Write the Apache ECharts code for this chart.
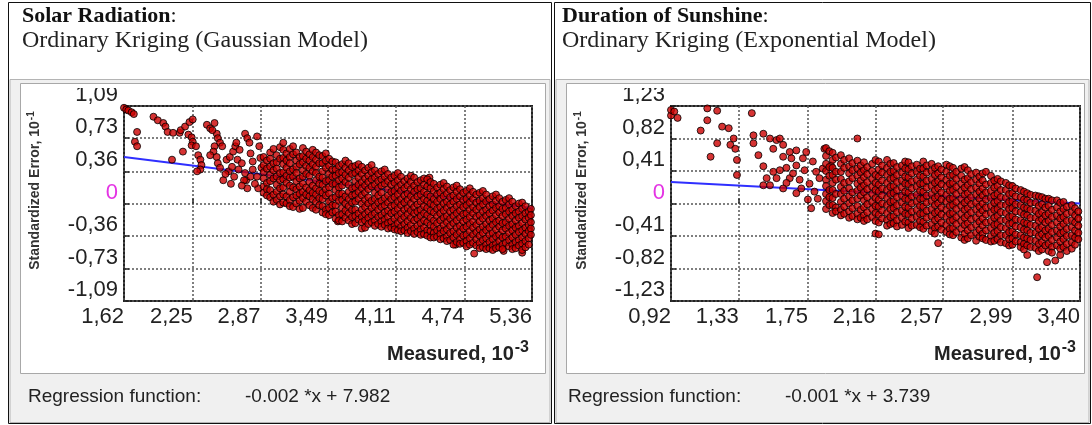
<!DOCTYPE html>
<html><head><meta charset="utf-8">
<script src="https://cdn.jsdelivr.net/npm/echarts@6/dist/echarts.min.js"></script>
<style>html,body{margin:0;padding:0;background:#fff}#c{width:1092px;height:425px}</style>
</head><body><div id="c"></div>
<script>
// ---------- tick values ----------
const solarTicksX = [1.62, 2.25, 2.87, 3.49, 4.11, 4.74, 5.36];
const solarTicksY = [-1.09, -0.73, -0.36, 0, 0.36, 0.73, 1.09];
const sunTicksX = [0.92, 1.33, 1.75, 2.16, 2.57, 2.99, 3.40];
const sunTicksY = [-1.23, -0.82, -0.41, 0, 0.41, 0.82, 1.23];

// ---------- regression lines ----------
const solarRegression = [[1.62, 0.52], [5.36, -0.05]];
const sunRegression = [[0.92, 0.27], [3.40, 0.00]];
const solarRegText = '-0.002 *x + 7.982';
const sunRegText = '-0.001 *x + 3.739';

// ---------- Solar radiation points ----------
const solarSparse = [
[1.62,1.07],[1.64,1.05],[1.66,1.04],[1.69,1.02],[1.71,1.00],
[1.74,0.80],[1.72,0.69],[1.74,0.64],
[1.89,0.97],[1.93,0.93],[1.98,0.90],[2.00,0.86],[2.02,0.80],[2.07,0.79],[2.13,0.79],[2.14,0.82],[2.18,0.86],[2.22,0.91],[2.25,0.94],
[2.06,0.49],[2.16,0.58],
[2.21,0.77],[2.24,0.74],[2.25,0.69],[2.24,0.65],[2.28,0.64],
[2.30,0.54],[2.32,0.49],[2.33,0.43],[2.32,0.38],[2.29,0.36],
[2.38,0.88],[2.41,0.84],[2.45,0.90],[2.47,0.78],[2.43,0.82],
[2.48,0.73],[2.50,0.68],[2.52,0.64],[2.45,0.64],[2.44,0.58],[2.41,0.54],[2.47,0.52],[2.48,0.45],[2.50,0.40],[2.53,0.26],
[2.56,0.49],[2.59,0.52],[2.62,0.58],[2.64,0.64],[2.65,0.68],[2.68,0.60],[2.66,0.49],[2.70,0.45],
[2.73,0.78],[2.75,0.73],[2.77,0.68],[2.78,0.56],[2.80,0.47],[2.84,0.75],[2.86,0.64],[2.87,0.51],
[2.73,0.34],[2.74,0.26],[2.78,0.30],[2.84,0.30],[2.85,0.17],[2.75,0.17],[2.72,0.26],
[2.58,0.36],[2.61,0.41],[2.63,0.30],[2.67,0.38],[2.70,0.20],[2.80,0.38],[2.82,0.22],[2.88,0.40],[2.60,0.22],[2.55,0.33],
[3.58,-0.20],[3.80,-0.28],[4.42,0.29],[4.66,-0.46],[4.83,-0.56],[5.10,-0.53],[5.27,-0.55]
];
// dense cloud, read column by column: [x, y1, y2, ...]
const solarDenseColumns = [
[2.90, 0.52, 0.43, 0.35, 0.28, 0.19, 0.12],
[2.93, 0.48, 0.39, 0.23, 0.16, 0.09],
[2.96, 0.57, 0.50, 0.41, 0.32, 0.25, 0.15, 0.07],
[2.99, 0.61, 0.45, 0.37, 0.28, 0.10, 0.02],
[3.02, 0.54, 0.46, 0.39, 0.30, 0.21, 0.13, 0.04],
[3.05, 0.63, 0.50, 0.34, 0.26, 0.17, 0.08, -0.01],
[3.08, 0.68, 0.60, 0.51, 0.44, 0.35, 0.27, 0.18, 0.10, 0.01],
[3.11, 0.56, 0.48, 0.40, 0.31, 0.23, 0.08, 0.00],
[3.14, 0.61, 0.52, 0.45, 0.36, 0.29, 0.20, 0.13, 0.04, -0.03],
[3.17, 0.64, 0.55, 0.38, 0.30, 0.18, 0.07, -0.04],
[3.20, 0.57, 0.48, 0.41, 0.34, 0.25, 0.16, 0.09, 0.00],
[3.23, 0.52, 0.44, 0.28, 0.19, 0.11, 0.03, -0.06],
[3.26, 0.62, 0.53, 0.46, 0.37, 0.30, 0.22, 0.13, 0.06, -0.05],
[3.29, 0.58, 0.50, 0.42, 0.33, 0.18, 0.10, 0.02],
[3.32, 0.55, 0.48, 0.40, 0.31, 0.24, 0.15, 0.08, -0.02],
[3.35, 0.60, 0.52, 0.44, 0.36, 0.20, 0.12, 0.05, -0.05],
[3.38, 0.57, 0.49, 0.41, 0.34, 0.26, 0.17, 0.10, 0.02, -0.07],
[3.41, 0.54, 0.45, 0.30, 0.22, 0.14, 0.06, -0.02],
[3.44, 0.53, 0.45, 0.36, 0.29, 0.21, 0.12, 0.05, -0.03, -0.10],
[3.47, 0.56, 0.48, 0.40, 0.25, 0.16, 0.09, -0.07, -0.12],
[3.50, 0.50, 0.42, 0.33, 0.26, 0.18, 0.11, 0.02, -0.05, -0.13],
[3.53, 0.47, 0.38, 0.30, 0.22, 0.06, -0.02, -0.10],
[3.56, 0.46, 0.38, 0.31, 0.22, 0.15, 0.07, -0.02, -0.09, -0.17],
[3.59, 0.42, 0.34, 0.26, 0.18, 0.11, 0.03, -0.13, -0.19],
[3.62, 0.44, 0.35, 0.28, 0.20, 0.11, 0.04, -0.05, -0.12, -0.20],
[3.65, 0.48, 0.40, 0.32, 0.24, 0.08, 0.00, -0.08, -0.16],
[3.68, 0.45, 0.37, 0.29, 0.21, 0.13, 0.05, -0.03, -0.11, -0.19],
[3.71, 0.41, 0.33, 0.17, 0.09, 0.01, -0.07, -0.15, -0.23],
[3.74, 0.42, 0.34, 0.25, 0.18, 0.10, 0.02, -0.07, -0.14, -0.22],
[3.77, 0.44, 0.37, 0.29, 0.21, 0.13, 0.05, -0.11, -0.18],
[3.80, 0.41, 0.33, 0.24, 0.17, 0.09, 0.00, -0.07, -0.15, -0.21],
[3.83, 0.37, 0.28, 0.20, 0.12, 0.04, -0.04, -0.12, -0.19, -0.27],
[3.86, 0.40, 0.31, 0.24, 0.16, 0.07, 0.00, -0.09, -0.16, -0.23],
[3.89, 0.43, 0.35, 0.27, 0.19, 0.03, -0.05, -0.13, -0.21],
[3.92, 0.37, 0.29, 0.21, 0.12, 0.05, -0.03, -0.11, -0.19, -0.25],
[3.95, 0.33, 0.25, 0.17, 0.09, 0.01, -0.07, -0.15, -0.23],
[3.98, 0.36, 0.27, 0.20, 0.12, 0.03, -0.04, -0.13, -0.20, -0.26],
[4.01, 0.38, 0.30, 0.22, 0.06, -0.02, -0.10, -0.18, -0.24],
[4.04, 0.33, 0.25, 0.16, 0.09, 0.01, -0.08, -0.15, -0.22, -0.28],
[4.07, 0.29, 0.21, 0.13, 0.05, -0.03, -0.11, -0.20, -0.27],
[4.10, 0.31, 0.23, 0.14, 0.07, -0.02, -0.09, -0.17, -0.25, -0.29],
[4.13, 0.34, 0.26, 0.18, 0.10, 0.02, -0.06, -0.14, -0.22, -0.30],
[4.16, 0.30, 0.21, 0.14, 0.05, -0.02, -0.11, -0.18, -0.26, -0.31],
[4.19, 0.25, 0.17, 0.09, 0.01, -0.07, -0.15, -0.23, -0.30],
[4.22, 0.28, 0.20, 0.11, 0.04, -0.05, -0.12, -0.20, -0.27, -0.33],
[4.25, 0.31, 0.24, 0.16, 0.08, 0.00, -0.08, -0.16, -0.24, -0.31],
[4.28, 0.29, 0.20, 0.13, 0.05, -0.04, -0.11, -0.19, -0.28, -0.34],
[4.31, 0.24, 0.16, 0.08, -0.01, -0.09, -0.17, -0.25, -0.32],
[4.34, 0.26, 0.17, 0.10, 0.02, -0.07, -0.14, -0.22, -0.29, -0.35],
[4.37, 0.28, 0.21, 0.13, 0.05, -0.03, -0.11, -0.19, -0.27, -0.34],
[4.40, 0.27, 0.19, 0.10, 0.03, -0.05, -0.13, -0.21, -0.30, -0.36],
[4.43, 0.24, 0.17, 0.08, 0.00, -0.08, -0.16, -0.24, -0.31, -0.38],
[4.46, 0.22, 0.14, 0.05, -0.02, -0.10, -0.19, -0.26, -0.33, -0.38],
[4.49, 0.18, 0.10, 0.02, -0.06, -0.14, -0.22, -0.30, -0.37],
[4.52, 0.21, 0.12, 0.05, -0.04, -0.11, -0.19, -0.28, -0.34, -0.40],
[4.55, 0.23, 0.16, 0.08, 0.00, -0.08, -0.16, -0.24, -0.31, -0.39],
[4.58, 0.19, 0.11, 0.02, -0.05, -0.14, -0.21, -0.29, -0.37, -0.42],
[4.61, 0.15, 0.07, -0.01, -0.09, -0.17, -0.25, -0.33, -0.41],
[4.64, 0.18, 0.09, 0.02, -0.07, -0.14, -0.22, -0.31, -0.38, -0.46],
[4.67, 0.20, 0.13, 0.05, -0.03, -0.11, -0.19, -0.27, -0.35, -0.43],
[4.70, 0.16, 0.08, -0.01, -0.08, -0.16, -0.25, -0.32, -0.40, -0.45],
[4.73, 0.12, 0.04, -0.04, -0.12, -0.20, -0.28, -0.36, -0.44],
[4.76, 0.14, 0.05, -0.02, -0.11, -0.18, -0.26, -0.35, -0.42, -0.48],
[4.79, 0.17, 0.09, 0.01, -0.07, -0.15, -0.23, -0.31, -0.39, -0.46],
[4.82, 0.13, 0.05, -0.04, -0.11, -0.20, -0.27, -0.35, -0.44],
[4.85, 0.10, 0.01, -0.07, -0.15, -0.24, -0.32, -0.40, -0.47],
[4.88, 0.12, 0.03, -0.04, -0.13, -0.20, -0.29, -0.36, -0.44, -0.50],
[4.91, 0.14, 0.06, -0.01, -0.09, -0.17, -0.26, -0.33, -0.41, -0.49],
[4.94, 0.10, 0.02, -0.07, -0.14, -0.23, -0.30, -0.39, -0.46, -0.51],
[4.97, 0.05, -0.03, -0.11, -0.19, -0.27, -0.35, -0.43, -0.50],
[5.00, 0.08, -0.01, -0.08, -0.17, -0.24, -0.33, -0.40, -0.47, -0.52],
[5.03, 0.10, 0.03, -0.05, -0.13, -0.21, -0.29, -0.37, -0.45, -0.50],
[5.06, 0.06, -0.03, -0.10, -0.19, -0.26, -0.35, -0.42, -0.49],
[5.09, 0.02, -0.06, -0.14, -0.22, -0.30, -0.38, -0.46, -0.51],
[5.12, 0.04, -0.05, -0.12, -0.21, -0.28, -0.37, -0.44],
[5.15, 0.06, -0.01, -0.09, -0.17, -0.25, -0.33, -0.41, -0.48],
[5.18, 0.02, -0.07, -0.14, -0.23, -0.30, -0.38, -0.46, -0.51],
[5.21, -0.03, -0.11, -0.19, -0.27, -0.35, -0.43, -0.50],
[5.24, 0.00, -0.09, -0.16, -0.25, -0.32, -0.41, -0.47],
[5.27, 0.01, -0.06, -0.14, -0.22, -0.30, -0.38, -0.45, -0.52],
[5.30, -0.03, -0.11, -0.18, -0.27, -0.34, -0.42, -0.49],
[5.33, -0.09, -0.16, -0.24, -0.31, -0.39, -0.46],
[5.35, -0.06, -0.13, -0.21, -0.28, -0.35]
];

// ---------- Duration of sunshine points ----------
const sunSparse = [
[0.92,1.11],[0.92,1.18],[0.94,1.16],[0.96,1.08],
[1.14,1.20],[1.20,1.17],[1.14,1.05],[1.10,0.92],[1.16,0.59],[1.20,0.76],[1.23,0.97],[1.27,0.95],
[1.28,0.74],[1.30,0.82],[1.31,0.69],[1.32,0.55],[1.32,0.36],
[1.41,1.14],[1.42,0.86],[1.42,0.76],[1.45,0.61],[1.48,0.88],[1.48,0.47],
[1.52,0.82],[1.54,0.69],[1.56,0.80],[1.58,0.82],[1.60,0.74],[1.60,0.59],[1.64,0.65],[1.65,0.57],[1.68,0.48],[1.68,0.67],
[1.50,0.32],[1.52,0.23],[1.48,0.23],[1.56,0.32],[1.60,0.19],[1.64,0.32],[1.68,0.13],[1.71,0.19],[1.77,-0.06],[1.81,0.06],
[1.72,0.57],[1.74,0.65],[1.78,0.53],[1.80,0.40],[1.82,0.32],[1.84,0.44],[1.85,0.69],[1.89,0.48],
[1.58,0.42],[1.62,0.45],[1.66,0.38],[1.70,0.30],[1.73,0.42],[1.76,0.25],[1.79,0.15],[1.75,0.05],[1.62,0.26],[1.54,0.40],
[2.16,-0.38],[2.18,-0.39],[2.54,-0.50],[3.08,-0.65],[3.14,-0.93],[3.20,-0.74],[3.25,-0.72],[3.28,-0.65]
];
const sunDenseColumns = [
[1.86, 0.70, 0.60, 0.50, 0.41, 0.30, 0.22, 0.12, 0.03, -0.07],
[1.88, 0.66, 0.46, 0.35, 0.17, 0.08, -0.02],
[1.90, 0.64, 0.55, 0.45, 0.36, 0.26, 0.17, 0.07, -0.02, -0.12],
[1.92, 0.58, 0.40, 0.30, 0.12, -0.05, -0.10],
[1.95, 0.61, 0.50, 0.40, 0.31, 0.21, 0.12, 0.02, -0.08, -0.15],
[1.97, 0.55, 0.45, 0.26, 0.16, 0.06, -0.04, -0.13],
[2.00, 0.57, 0.47, 0.38, 0.28, 0.19, 0.09, 0.00, -0.10, -0.18],
[2.02, 0.51, 0.42, 0.32, 0.14, 0.04, -0.06, -0.16],
[2.05, 0.82, 0.54, 0.44, 0.35, 0.25, 0.16, 0.06, -0.03, -0.13, -0.20],
[2.07, 0.48, 0.39, 0.29, 0.20, 0.10, -0.08, -0.18],
[2.09, 0.52, 0.42, 0.33, 0.23, 0.14, 0.04, -0.05, -0.15, -0.22],
[2.11, 0.46, 0.37, 0.27, 0.18, 0.08, -0.01, -0.11, -0.20],
[2.14, 0.50, 0.41, 0.31, 0.21, 0.12, 0.02, -0.07, -0.17],
[2.16, 0.55, 0.36, 0.26, 0.17, 0.07, -0.03, -0.12, -0.22],
[2.18, 0.53, 0.43, 0.34, 0.24, 0.15, 0.05, -0.04, -0.14, -0.24],
[2.20, 0.48, 0.39, 0.29, 0.19, 0.10, 0.00, -0.09, -0.19],
[2.23, 0.55, 0.45, 0.36, 0.26, 0.17, 0.07, -0.02, -0.12, -0.21, -0.28],
[2.25, 0.50, 0.40, 0.31, 0.21, 0.12, 0.02, -0.07, -0.17, -0.26],
[2.27, 0.51, 0.41, 0.32, 0.22, 0.13, 0.03, -0.06, -0.16, -0.25],
[2.29, 0.46, 0.36, 0.27, 0.17, 0.08, -0.02, -0.11, -0.21, -0.29],
[2.32, 0.48, 0.39, 0.29, 0.20, 0.10, 0.01, -0.09, -0.18, -0.27],
[2.34, 0.53, 0.44, 0.34, 0.25, 0.15, 0.06, -0.04, -0.13, -0.23],
[2.36, 0.52, 0.43, 0.33, 0.24, 0.14, 0.05, -0.05, -0.14, -0.24, -0.31],
[2.38, 0.47, 0.38, 0.28, 0.19, 0.09, 0.00, -0.10, -0.19, -0.28],
[2.41, 0.49, 0.40, 0.30, 0.21, 0.11, 0.02, -0.08, -0.17, -0.27],
[2.43, 0.44, 0.35, 0.25, 0.16, 0.06, -0.03, -0.13, -0.22, -0.30],
[2.45, 0.53, 0.44, 0.34, 0.25, 0.15, 0.06, -0.04, -0.13, -0.23, -0.32],
[2.47, 0.48, 0.39, 0.29, 0.20, 0.10, 0.01, -0.09, -0.18, -0.28],
[2.50, 0.50, 0.41, 0.31, 0.22, 0.12, 0.03, -0.07, -0.16, -0.26, -0.35],
[2.52, 0.45, 0.36, 0.26, 0.17, 0.07, -0.02, -0.12, -0.21, -0.31, -0.38],
[2.54, 0.47, 0.38, 0.28, 0.19, 0.09, 0.00, -0.10, -0.19, -0.29],
[2.56, 0.43, 0.33, 0.24, 0.14, 0.05, -0.05, -0.14, -0.24, -0.33],
[2.59, 0.49, 0.40, 0.30, 0.21, 0.11, 0.02, -0.08, -0.17, -0.27, -0.36],
[2.61, 0.47, 0.35, 0.25, 0.16, 0.06, -0.03, -0.13, -0.22, -0.32, -0.39],
[2.63, 0.45, 0.36, 0.26, 0.17, 0.07, -0.02, -0.12, -0.21, -0.31, -0.40],
[2.65, 0.40, 0.31, 0.21, 0.12, 0.02, -0.07, -0.17, -0.26, -0.36],
[2.68, 0.44, 0.35, 0.25, 0.16, 0.06, -0.03, -0.13, -0.22, -0.32, -0.43],
[2.70, 0.46, 0.30, 0.20, 0.11, 0.01, -0.08, -0.18, -0.27, -0.38, -0.46],
[2.72, 0.42, 0.32, 0.23, 0.13, 0.04, -0.06, -0.15, -0.25, -0.34, -0.44],
[2.74, 0.37, 0.27, 0.18, 0.08, -0.01, -0.11, -0.20, -0.30, -0.40],
[2.77, 0.39, 0.30, 0.20, 0.11, 0.01, -0.08, -0.18, -0.27, -0.37, -0.47],
[2.79, 0.34, 0.25, 0.15, 0.06, -0.04, -0.13, -0.23, -0.33, -0.42],
[2.81, 0.38, 0.29, 0.19, 0.10, 0.00, -0.09, -0.19, -0.28, -0.38, -0.44],
[2.83, 0.40, 0.24, 0.14, 0.05, -0.05, -0.14, -0.24, -0.34, -0.46],
[2.86, 0.35, 0.26, 0.16, 0.07, -0.03, -0.12, -0.22, -0.31, -0.41, -0.48],
[2.88, 0.29, 0.20, 0.10, 0.01, -0.08, -0.18, -0.27, -0.37, -0.47],
[2.90, 0.31, 0.22, 0.12, 0.03, -0.07, -0.16, -0.26, -0.35, -0.45],
[2.92, 0.28, 0.17, 0.08, -0.02, -0.11, -0.21, -0.30, -0.40, -0.49],
[2.95, 0.26, 0.17, 0.07, -0.02, -0.12, -0.21, -0.31, -0.40, -0.50],
[2.97, 0.23, 0.12, 0.02, -0.07, -0.17, -0.26, -0.36, -0.45, -0.53],
[2.99, 0.22, 0.13, 0.03, -0.06, -0.16, -0.25, -0.35, -0.44, -0.52],
[3.01, 0.19, 0.09, -0.01, -0.10, -0.20, -0.29, -0.39, -0.48],
[3.04, 0.17, 0.08, -0.02, -0.11, -0.21, -0.30, -0.40, -0.49, -0.55],
[3.06, 0.15, 0.05, -0.05, -0.14, -0.24, -0.33, -0.43, -0.51, -0.58],
[3.08, 0.13, 0.04, -0.06, -0.15, -0.25, -0.34, -0.44, -0.53],
[3.10, 0.11, 0.01, -0.08, -0.18, -0.27, -0.37, -0.46, -0.55],
[3.13, 0.10, 0.01, -0.09, -0.18, -0.28, -0.37, -0.47, -0.56],
[3.15, 0.09, -0.03, -0.13, -0.22, -0.32, -0.41, -0.51, -0.60],
[3.17, 0.08, -0.01, -0.11, -0.20, -0.30, -0.39, -0.49, -0.58],
[3.19, 0.06, -0.05, -0.15, -0.24, -0.34, -0.43, -0.53],
[3.21, 0.06, -0.03, -0.13, -0.22, -0.32, -0.41, -0.51, -0.60],
[3.23, 0.04, -0.08, -0.17, -0.27, -0.36, -0.46, -0.55, -0.62],
[3.26, 0.04, -0.05, -0.15, -0.24, -0.34, -0.43, -0.53],
[3.28, 0.01, -0.10, -0.19, -0.29, -0.38, -0.48, -0.57],
[3.30, 0.02, -0.07, -0.17, -0.26, -0.36, -0.45, -0.55],
[3.32, -0.04, -0.13, -0.22, -0.32, -0.41, -0.51, -0.60],
[3.35, -0.02, -0.11, -0.21, -0.30, -0.40, -0.49, -0.57],
[3.37, -0.06, -0.15, -0.24, -0.34, -0.43, -0.52],
[3.39, -0.10, -0.19, -0.28, -0.37, -0.45]
];

// ---------- build point lists ----------
function columnsToPoints(cols) {
  const out = [];
  cols.forEach(c => { for (let i = 1; i < c.length; i++) out.push([c[0], c[i]]); });
  return out;
}
const solarPoints = solarSparse.concat(columnsToPoints(solarDenseColumns));
const sunPoints = sunSparse.concat(columnsToPoints(sunDenseColumns));

const tickFont = '"Liberation Sans", Arial, sans-serif';
const tickSize = 22;
const fmt = v => Math.abs(v) < 1e-9 ? '{z|0}' : v.toFixed(2).replace('.', ',');

function xAxisCfg(gi, ticks) {
  return {
    type: 'value', gridIndex: gi, min: ticks[0], max: ticks[ticks.length - 1],
    axisLine: { show: false },
    axisTick: { show: true, inside: true, length: 5, customValues: ticks, lineStyle: { color: '#222', width: 1.5 } },
    axisLabel: { customValues: ticks, formatter: fmt, align: 'right', margin: 5,
      fontFamily: tickFont, fontSize: tickSize, color: '#222' },
    splitLine: { show: true, lineStyle: { type: [2, 2], color: '#555', width: 1.5 } }
  };
}
function yAxisCfg(gi, ticks) {
  return {
    type: 'value', gridIndex: gi, min: ticks[0], max: ticks[ticks.length - 1],
    axisLine: { show: false },
    axisTick: { show: true, inside: true, length: 5, customValues: ticks, lineStyle: { color: '#222', width: 1.5 } },
    axisLabel: { customValues: ticks, formatter: fmt, verticalAlign: 'bottom', margin: 6,
      fontFamily: tickFont, fontSize: tickSize, color: '#222',
      rich: { z: { color: '#e433e4', fontFamily: tickFont, fontSize: tickSize } } },
    splitLine: { show: true, lineStyle: { type: [2, 2], color: '#555', width: 1.5 } },
    name: '{a|Standardized Error, 10}{s|-1}', nameLocation: 'middle', nameGap: 80, nameRotate: 90,
    nameTextStyle: { padding: [0, 0, 0, 26], rich: {
      a: { fontFamily: tickFont, fontSize: 14, fontWeight: 'bold', color: '#333' },
      s: { fontFamily: tickFont, fontSize: 10, fontWeight: 'bold', color: '#333', padding: [0, 0, 8, 1] } } }
  };
}
const dotStyle = { color: '#cc0000', borderColor: '#000', borderWidth: 1 };

function frame(x0, w) {
  return [
    { type: 'rect', z: -20, shape: { x: x0 + 0.5, y: 2.5, width: w, height: 421 }, style: { fill: '#fff', stroke: '#111', lineWidth: 1 } },
    { type: 'rect', z: -19, shape: { x: x0 + 2, y: 79.5, width: w - 3, height: 343 }, style: { fill: '#f0f0f0', stroke: '#b4b4b4', lineWidth: 1 } },
    { type: 'rect', z: -18, shape: { x: x0 + 12.5, y: 83.5, width: w - 18, height: 290 }, style: { fill: '#fff', stroke: '#a8a8a8', lineWidth: 1 } },
    // top edge of the plot window (clips the top tick label like the original)
    { type: 'rect', z: 20, silent: true, shape: { x: x0 + 13, y: 84, width: w - 19, height: 4 }, style: { fill: '#fff' } }
  ];
}
function texts(x0, bold, sub, reg, xAxisEnd) {
  return [
    { type: 'text', z: 10, left: x0, top: 5, style: { text: '{b|' + bold + '}{n|:}',
      rich: { b: { fontFamily: '"Liberation Serif", serif', fontWeight: 'bold', fontSize: 22, fill: '#111' },
              n: { fontFamily: '"Liberation Serif", serif', fontSize: 22, fill: '#111' } } } },
    { type: 'text', z: 10, left: x0, top: 29, style: { text: sub, font: '24px "Liberation Serif", serif', fill: '#222' } },
    { type: 'text', z: 10, x: x0 + 6, y: 397, style: { text: 'Regression function:', font: '19px "Liberation Sans", Arial, sans-serif', fill: '#222', verticalAlign: 'middle' } },
    { type: 'text', z: 10, x: x0 + 223, y: 397, style: { text: reg, font: '19px "Liberation Sans", Arial, sans-serif', fill: '#222', verticalAlign: 'middle' } },
    { type: 'text', z: 10, x: xAxisEnd, y: 354, style: { text: '{a|Measured, 10}{s|-3}', align: 'right', verticalAlign: 'middle',
      rich: { a: { fontFamily: '"Liberation Sans", Arial, sans-serif', fontWeight: 'bold', fontSize: 20, fill: '#222' },
              s: { fontFamily: '"Liberation Sans", Arial, sans-serif', fontWeight: 'bold', fontSize: 16, fill: '#222', padding: [0, 0, 12, 1] } } } }
  ];
}

const chart = echarts.init(document.getElementById('c'), null, { renderer: 'canvas' });
chart.setOption({
  animation: false,
  backgroundColor: '#fff',
  grid: [
    { left: 124, top: 106, width: 408, height: 195, show: true, backgroundColor: '#fff', borderColor: '#222', borderWidth: 2 },
    { left: 671, top: 106, width: 409, height: 195, show: true, backgroundColor: '#fff', borderColor: '#222', borderWidth: 2 }
  ],
  xAxis: [xAxisCfg(0, solarTicksX), xAxisCfg(1, sunTicksX)],
  yAxis: [yAxisCfg(0, solarTicksY), yAxisCfg(1, sunTicksY)],
  graphic: { elements: [].concat(
    frame(8, 543), frame(554, 536),
    texts(22, 'Solar Radiation', 'Ordinary Kriging (Gaussian Model)', solarRegText, 529),
    texts(562, 'Duration of Sunshine', 'Ordinary Kriging (Exponential Model)', sunRegText, 1076)
  ) },
  series: [
    { type: 'line', xAxisIndex: 0, yAxisIndex: 0, data: solarRegression, showSymbol: false, z: 1, silent: true,
      lineStyle: { color: '#2f2fff', width: 2 } },
    { type: 'scatter', xAxisIndex: 0, yAxisIndex: 0, data: solarPoints, symbolSize: 7, z: 2, silent: true, itemStyle: dotStyle },
    { type: 'line', xAxisIndex: 1, yAxisIndex: 1, data: sunRegression, showSymbol: false, z: 1, silent: true,
      lineStyle: { color: '#2f2fff', width: 2 } },
    { type: 'scatter', xAxisIndex: 1, yAxisIndex: 1, data: sunPoints, symbolSize: 7, z: 2, silent: true, itemStyle: dotStyle }
  ]
});
</script></body></html>
